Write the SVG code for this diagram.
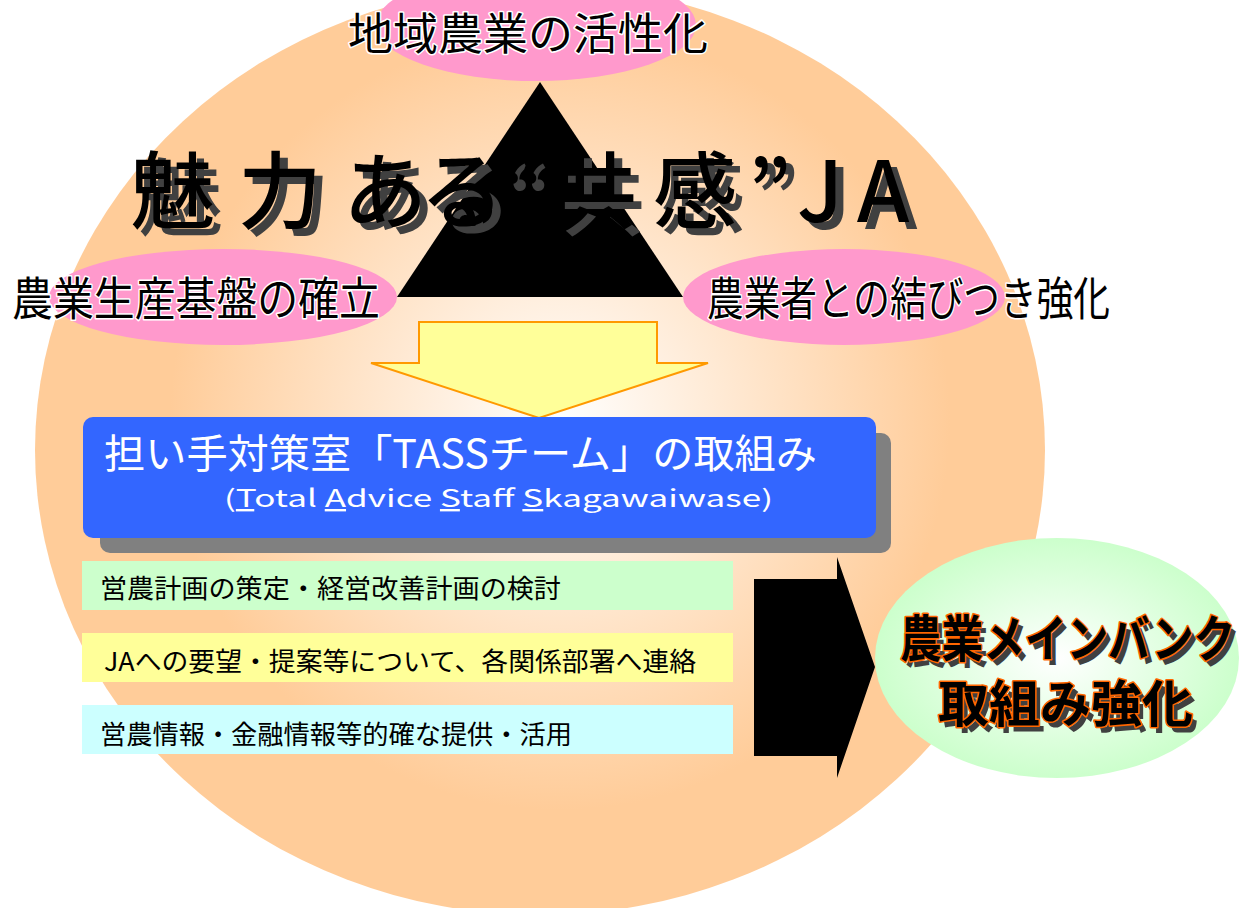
<svg xmlns="http://www.w3.org/2000/svg" width="1255" height="908" viewBox="0 0 1255 908">
<defs>
<radialGradient id="gBig" gradientUnits="userSpaceOnUse" cx="560" cy="420" r="500">
<stop offset="0" stop-color="#FFFFFF"/>
<stop offset="0.78" stop-color="#FFCC99"/>
<stop offset="1" stop-color="#FFCC99"/>
</radialGradient>
<radialGradient id="gGreen" cx="0.5" cy="0.5" r="0.5">
<stop offset="0" stop-color="#FFFFFF"/>
<stop offset="1" stop-color="#CCFFCC"/>
</radialGradient>
<style>
.jp{font-family:"Noto Sans CJK JP","Noto Sans",sans-serif;}
.halo{fill:#000;stroke:#FFF;stroke-width:3;paint-order:stroke;stroke-linejoin:round;}
.pink{fill:#FF99CC;}
.bar{font-size:26px;fill:#000;}
.title{font-size:84px;font-weight:500;}
.bank{font-size:50px;font-weight:bold;}
</style>
</defs>
<rect width="1255" height="908" fill="#FFFFFF"/>
<g id="background">
<ellipse cx="540" cy="450" rx="505" ry="465" fill="url(#gBig)"/>
</g>
<g id="triangle">
<polygon points="540,82 397,297 683,297" fill="#000"/>
</g>
<g id="node-top">
<ellipse class="pink" cx="536" cy="25" rx="160" ry="56"/>
<text class="jp halo" x="348" y="50" font-size="44" textLength="360" lengthAdjust="spacingAndGlyphs">地域農業の活性化</text>
</g>
<g id="node-left">
<ellipse class="pink" cx="223" cy="297" rx="174" ry="48"/>
<text class="jp halo" x="12" y="315" font-size="46" textLength="368" lengthAdjust="spacingAndGlyphs">農業生産基盤の確立</text>
</g>
<g id="node-right">
<ellipse class="pink" cx="844" cy="297" rx="161" ry="48"/>
<text class="jp halo" x="707" y="315" font-size="46" textLength="403" lengthAdjust="spacingAndGlyphs">農業者との結びつき強化</text>
</g>
<g id="title">
<g fill="#404040" transform="translate(8,7)">
<text class="jp title" y="222"><tspan x="131">魅</tspan><tspan x="238">力</tspan><tspan x="343">あ</tspan><tspan x="420">る</tspan><tspan x="500">“</tspan><tspan x="553">共</tspan><tspan x="653">感</tspan><tspan x="748">”</tspan><tspan x="797">J</tspan><tspan x="857">A</tspan></text>
</g>
<g fill="#000">
<text class="jp title" y="222"><tspan x="131">魅</tspan><tspan x="238">力</tspan><tspan x="343">あ</tspan><tspan x="420">る</tspan><tspan x="500">“</tspan><tspan x="553">共</tspan><tspan x="653">感</tspan><tspan x="748">”</tspan><tspan x="797">J</tspan><tspan x="857">A</tspan></text>
</g>
</g>
<g id="connectors">
<polygon points="419,322 657,322 657,363 708,363 539,418 371,363 419,363" fill="#FFFF99" stroke="#FF9900" stroke-width="2" stroke-linejoin="miter"/>
<polygon points="754,579 837,579 837,557 875,667 837,778 837,756 754,756" fill="#000"/>
</g>
<g id="node-tass">
<rect x="100" y="433" width="791" height="120" rx="10" fill="#808080"/>
<rect x="83" y="417" width="793" height="121" rx="10" fill="#3366FF"/>
<text class="jp" x="104" y="468" font-size="40" fill="#FFFFFF" textLength="713" lengthAdjust="spacingAndGlyphs">担い手対策室「TASSチーム」の取組み</text>
<text class="jp" x="224" y="507" font-size="24" fill="#FFFFFF" textLength="549" lengthAdjust="spacingAndGlyphs">(<tspan text-decoration="underline">T</tspan>otal <tspan text-decoration="underline">A</tspan>dvice <tspan text-decoration="underline">S</tspan>taff <tspan text-decoration="underline">S</tspan>kagawaiwase)</text>
</g>
<g id="node-bar1">
<rect x="82" y="561" width="651" height="49" fill="#CCFFCC"/>
<text class="jp bar" x="100" y="598" textLength="461" lengthAdjust="spacingAndGlyphs">営農計画の策定・経営改善計画の検討</text>
</g>
<g id="node-bar2">
<rect x="82" y="633" width="651" height="49" fill="#FFFF99"/>
<text class="jp bar" x="104" y="671" textLength="592" lengthAdjust="spacingAndGlyphs">JAへの要望・提案等について、各関係部署へ連絡</text>
</g>
<g id="node-bar3">
<rect x="82" y="705" width="651" height="49" fill="#CCFFFF"/>
<text class="jp bar" x="100" y="744" textLength="472" lengthAdjust="spacingAndGlyphs">営農情報・金融情報等的確な提供・活用</text>
</g>
<g id="node-bank">
<ellipse cx="1057" cy="658" rx="182" ry="120" fill="url(#gGreen)"/>
<g fill="#404040" transform="translate(5,6)">
<text class="jp bank" x="900" y="657" textLength="335" lengthAdjust="spacingAndGlyphs">農業メインバンク</text>
<text class="jp bank" x="938" y="722" textLength="255" lengthAdjust="spacingAndGlyphs">取組み強化</text>
</g>
<g fill="#000" stroke="#FF6600" stroke-width="3" paint-order="stroke" stroke-linejoin="round">
<text class="jp bank" x="900" y="657" textLength="335" lengthAdjust="spacingAndGlyphs">農業メインバンク</text>
<text class="jp bank" x="938" y="722" textLength="255" lengthAdjust="spacingAndGlyphs">取組み強化</text>
</g>
</g>
</svg>
